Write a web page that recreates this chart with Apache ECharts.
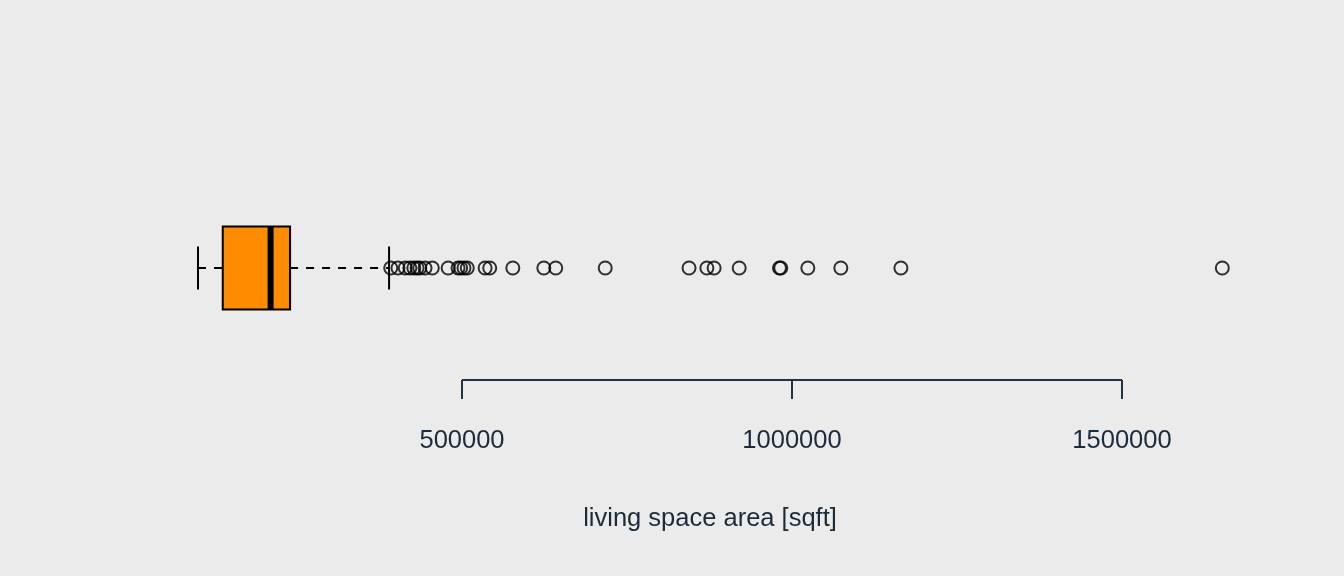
<!DOCTYPE html>
<html>
<head>
<meta charset="utf-8">
<style>
  html, body { margin: 0; padding: 0; background: #EBEBEB; }
  #chart { width: 1344px; height: 576px; }
</style>
<script src="https://cdn.jsdelivr.net/npm/echarts@6/dist/echarts.min.js"></script>
</head>
<body>
<div id="chart"></div>
<script>
// ---- data ----
const axisTitle = 'living space area [sqft]';
const tickValues = [500000, 1000000, 1500000];
// five-number summary: [lower whisker, Q1, median, Q3, upper whisker]
const boxStats = [100000, 137500, 210000, 239500, 389500];
const outliers = [392000, 403000, 414000, 421000, 427000, 432000, 436000, 444000, 455000,
  479000, 494000, 498000, 503000, 508000, 535000, 542000, 577000, 624000, 642000,
  717000, 844000, 871000, 882000, 920000, 981000, 983000, 1024000, 1074000, 1165000, 1652000];

const TEXT = '#1B2B3B';
const FONT = '"Liberation Sans", Arial, sans-serif';

const chart = echarts.init(document.getElementById('chart'), null, { renderer: 'canvas' });

const option = {
  backgroundColor: '#EBEBEB',
  animation: false,
  grid: { left: 173, right: 97, top: 156, bottom: 196 },
  xAxis: {
    type: 'value',
    min: 62121,
    max: 1689394,
    splitLine: { show: false },
    axisLine: { show: false, onZero: false },
    axisTick: { show: true, length: 19, inside: false, customValues: tickValues,
      lineStyle: { color: '#1F3347', width: 2 } },
    axisLabel: { customValues: tickValues, color: TEXT, fontSize: 25.5, fontFamily: FONT, margin: 48,
      formatter: v => String(v) },
    name: axisTitle,
    nameLocation: 'middle',
    nameGap: 126,
    nameTextStyle: { color: TEXT, fontSize: 25.5, fontFamily: FONT }
  },
  yAxis: { type: 'value', min: -1, max: 1, show: false },
  series: [
    {
      // axis line spanning only the tick range (R style)
      type: 'line',
      data: [[tickValues[0], -1], [tickValues[tickValues.length - 1], -1]],
      symbol: 'none',
      clip: false,
      lineStyle: { color: '#1F3347', width: 2 },
      silent: true,
      z: 1
    },
    {
      type: 'custom',
      clip: false,
      data: [boxStats],
      renderItem: function (params, api) {
        const lo = api.coord([api.value(0), 0]);
        const q1 = api.coord([api.value(1), 0]);
        const md = api.coord([api.value(2), 0]);
        const q3 = api.coord([api.value(3), 0]);
        const hi = api.coord([api.value(4), 0]);
        const y = lo[1];
        const hh = 41.5, ch = 21.5;
        const stroke = { stroke: '#000', lineWidth: 2, fill: null };
        const dashed = { stroke: '#000', lineWidth: 2, lineDash: [8, 8], fill: null };
        return {
          type: 'group',
          children: [
            { type: 'line', shape: { x1: lo[0], y1: y, x2: q1[0], y2: y }, style: dashed },
            { type: 'line', shape: { x1: q3[0], y1: y, x2: hi[0], y2: y }, style: dashed },
            { type: 'line', shape: { x1: lo[0], y1: y - ch, x2: lo[0], y2: y + ch }, style: stroke },
            { type: 'line', shape: { x1: hi[0], y1: y - ch, x2: hi[0], y2: y + ch }, style: stroke },
            { type: 'rect', shape: { x: q1[0], y: y - hh, width: q3[0] - q1[0], height: 2 * hh },
              style: { fill: '#FF8C00', stroke: '#000', lineWidth: 2 } },
            { type: 'line', shape: { x1: md[0], y1: y - hh, x2: md[0], y2: y + hh },
              style: { stroke: '#000', lineWidth: 6 } }
          ]
        };
      },
      z: 2
    },
    {
      type: 'scatter',
      data: outliers.map(v => [v, 0]),
      symbol: 'circle',
      symbolSize: 13,
      itemStyle: { color: 'rgba(0,0,0,0)', borderColor: '#000', borderWidth: 2 },
      clip: false,
      z: 3
    }
  ]
};
chart.setOption(option);
</script>
</body>
</html>
